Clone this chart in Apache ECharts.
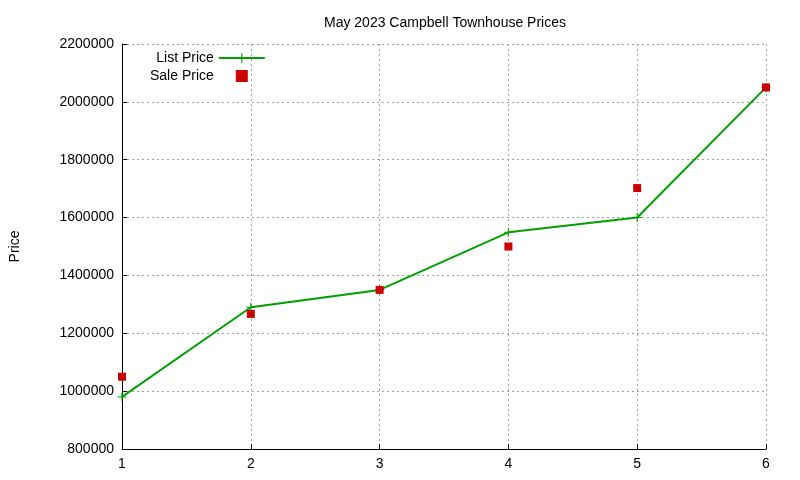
<!DOCTYPE html>
<html><head><meta charset="utf-8">
<script src="https://cdn.jsdelivr.net/npm/echarts@6/dist/echarts.min.js"></script>
<style>html,body{margin:0;background:#fff}#c{width:800px;height:480px}</style>
</head><body><div id="c"></div>
<script>
const categories = [1, 2, 3, 4, 5, 6];
const listPrice = [980000, 1290000, 1350000, 1549000, 1600000, 2050000];
const salePrice = [1050000, 1267000, 1350000, 1500000, 1702000, 2050000];
const pair = a => a.map((v, i) => [categories[i], v]);
const plus = 'path://M4.4,0H5.6V4.4H10V5.6H5.6V10H4.4V5.6H0V4.4H4.4Z';
const chart = echarts.init(document.getElementById('c'));
const gridLine = {show: true, lineStyle: {color: '#a0a0a0', type: [2, 3], width: 1}};
const lbl = {color: '#000', fontSize: 14, fontFamily: 'Liberation Sans'};
chart.setOption({
  animation: false,
  title: {text: 'May 2023 Campbell Townhouse Prices', left: 440, top: 11, textAlign: 'center',
    textStyle: {fontSize: 14, fontWeight: 'normal', color: '#000', fontFamily: 'Liberation Sans'}},
  grid: {left: 114, right: 34, top: 44, bottom: 31},
  legend: {orient: 'vertical', left: 145, top: 46, align: 'right', itemGap: 4, itemWidth: 46, itemHeight: 12,
    textStyle: lbl,
    data: [{name: 'List Price'}, {name: 'Sale Price', icon: 'path://M0,0H10V10H0Z', itemStyle: {opacity: 1}}]},
  xAxis: {type: 'value', min: 1, max: 6, interval: 1,
    axisLine: {lineStyle: {color: '#000'}}, axisTick: {inside: true, lineStyle: {color: '#000'}},
    axisLabel: lbl, splitLine: gridLine},
  yAxis: {type: 'value', min: 800000, max: 2200000, interval: 200000,
    name: 'Price', nameLocation: 'middle', nameGap: 100, nameTextStyle: lbl,
    axisLine: {show: true, lineStyle: {color: '#000'}}, axisTick: {inside: true, lineStyle: {color: '#000'}},
    axisLabel: Object.assign({formatter: v => String(v)}, lbl), splitLine: gridLine},
  series: [
    {name: 'List Price', type: 'line', data: pair(listPrice), symbol: plus, symbolSize: 9,
      color: '#00a000', lineStyle: {width: 2, color: '#00a000'}, itemStyle: {color: '#00a000'}},
    {name: 'Sale Price', type: 'scatter', data: pair(salePrice), symbol: 'rect', symbolSize: 8,
      itemStyle: {color: '#cc0000', opacity: 1}, z: 3}
  ]
});
</script></body></html>
